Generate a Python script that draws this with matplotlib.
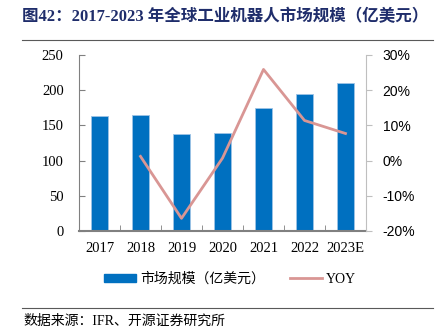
import matplotlib
matplotlib.use("Agg")
import matplotlib.pyplot as plt
from matplotlib.lines import Line2D
from matplotlib.patches import Patch

# data
years = ["2017", "2018", "2019", "2020", "2021", "2022", "2023E"]
market_size = [163, 165, 138, 139, 175, 195, 210]
yoy = [None, 1.2, -16.4, 0.7, 25.9, 11.4, 7.7]

serif = ["Liberation Serif", "Noto Sans CJK SC"]

fig = plt.figure(figsize=(4.41, 3.34), dpi=100)
ax = fig.add_axes([79 / 441, 1 - 231 / 334, 287 / 441, 176 / 334])

x = list(range(len(years)))
ax.bar(x, market_size, width=0.4, color="#0070C0", edgecolor="#9DC3E6", linewidth=0.6, zorder=2)
ax.set_xlim(-0.5, len(years) - 0.5)
ax.set_ylim(0, 250)
ax.set_yticks([0, 50, 100, 150, 200, 250])
ax.set_xticks(x)
ax.set_xticklabels(years)
ax.set_xticks([i + 0.5 for i in x[:-1]], minor=True)
ax.tick_params(axis="x", which="major", length=0, pad=8)
ax.tick_params(axis="x", which="minor", length=4, color="#808080", direction="in")
ax.tick_params(axis="y", length=4, color="#808080", direction="in", pad=11)
for lab in ax.get_xticklabels() + ax.get_yticklabels():
    lab.set_family(serif)
    lab.set_fontsize(10.5)
for s in ["top", "right"]:
    ax.spines[s].set_visible(False)
ax.spines["left"].set_color("#808080")
ax.spines["bottom"].set_color("#808080")
ax.spines["bottom"].set_linewidth(1.5)

ax2 = ax.twinx()
xs = [i for i, v in zip(x, yoy) if v is not None]
ys = [v for v in yoy if v is not None]
ax2.plot(xs, ys, color="#D99694", linewidth=2, zorder=3)
ax2.set_ylim(-20, 30)
ax2.set_yticks([-20, -10, 0, 10, 20, 30])
ax2.set_yticklabels([f"{t}%" for t in [-20, -10, 0, 10, 20, 30]])
ax2.tick_params(axis="y", length=4, color="#BFBFBF", direction="out", pad=8)
for lab in ax2.get_yticklabels():
    lab.set_family(["Liberation Sans", "DejaVu Sans"])
    lab.set_fontsize(10)
for s in ["top", "left", "bottom"]:
    ax2.spines[s].set_visible(False)
ax2.spines["right"].set_color("#BFBFBF")

# title and rules
fig.text(22 / 441, 1 - 17 / 334, "图42：2017-2023 年全球工业机器人市场规模（亿美元）",
         family=serif, fontsize=11.9, fontweight="bold", color="#1F2D6B", va="center")
fig.add_artist(Line2D([22 / 441, 433 / 441], [1 - 39.5 / 334] * 2, color="#595959", linewidth=0.8))
fig.add_artist(Line2D([22 / 441, 433 / 441], [1 - 307.5 / 334] * 2, color="#595959", linewidth=0.8))

# legend
handles = [Patch(facecolor="#0070C0", edgecolor="#0070C0"),
           Line2D([0], [0], color="#D99694", linewidth=2)]
leg = fig.legend(handles, ["市场规模（亿美元）", "YOY"], loc="center",
                 bbox_to_anchor=(230 / 441, 1 - 279 / 334), ncol=2, frameon=False,
                 handlelength=2.3, handleheight=0.45, columnspacing=1.8, handletextpad=0.3,
                 prop={"family": serif, "size": 10})

fig.text(23 / 441, 1 - 321 / 334, "数据来源：IFR、开源证券研究所",
         family=serif, fontsize=10, color="#000000", va="center")

fig.savefig("out.png", dpi=100)
